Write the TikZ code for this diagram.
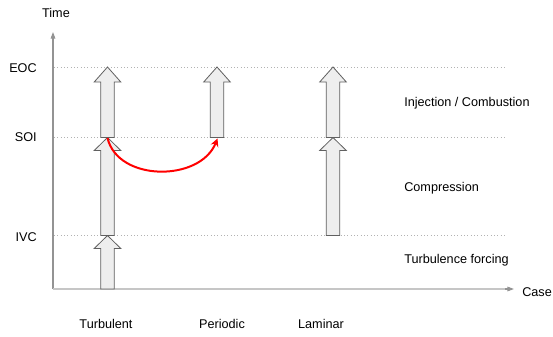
\documentclass[tikz,border=0pt]{standalone}
\usepackage{fontspec}
\setmainfont{Liberation Sans}
\usetikzlibrary{arrows.meta}
\tikzset{
  lbl/.style={font=\fontsize{9.5}{11}\selectfont, inner sep=0pt},
  axisline/.style={draw=gray!85, line width=0.8pt, -{Triangle[length=5pt,width=3.5pt]}},
  guide/.style={draw=gray!60, line width=0.5pt, dotted},
  blockarrow/.style={draw=gray!75!black, fill=gray!13, line width=0.6pt, line join=miter},
  jump/.style={draw=red, line width=1.5pt, -{Stealth[length=6pt,width=6pt]}}
}
% upward block arrow: x centre, bottom y, tip y, head length
\newcommand\uparrowblock[4]{%
  \path[blockarrow] (#1-6.8,#2) -- (#1-6.8,#3+#4) -- (#1-13.3,#3+#4) -- (#1,#3)
    -- (#1+13.3,#3+#4) -- (#1+6.8,#3+#4) -- (#1+6.8,#2) -- cycle;}
\begin{document}
\begin{tikzpicture}[x=0.75pt,y=-0.75pt]
\useasboundingbox (0,0) rectangle (553,336);

% time levels
\draw[guide] (54,67) -- (506,67);
\draw[guide] (54,137) -- (506,137);
\draw[guide] (54,235) -- (506,235);

% axes
\coordinate (origin) at (53,289);
\coordinate (ytip) at (53,32);
\coordinate (xtip) at (514,289);
\draw[axisline] (origin) -- (ytip);
\draw[draw=gray!45, line width=1.5pt] (origin) -- (505,289);
\draw[axisline] (505,289) -- (xtip);

\node[lbl] (time) at (56,13) {Time};
\node[lbl, anchor=west] (case) at (522,292) {Case};
\node[lbl, anchor=east] (eoc) at (37,68) {EOC};
\node[lbl, anchor=east] (soi) at (37,137) {SOI};
\node[lbl, anchor=east] (ivc) at (37,237) {IVC};

% phase arrows
\uparrowblock{107.5}{289}{235.5}{13}
\uparrowblock{107.5}{235.5}{137.5}{13}
\uparrowblock{107.5}{137.5}{67}{15}
\uparrowblock{217}{137.5}{67}{15}
\uparrowblock{333}{235.5}{137.5}{13}
\uparrowblock{333}{137.5}{67}{15}

% restart of the periodic case
\coordinate (turbsoi) at (107.5,138);
\coordinate (persoi) at (217.5,138.5);
\draw[jump] (turbsoi) .. controls (118,182) and (200,182) .. (persoi);

% phase names
\node[lbl, anchor=west] (inj) at (404,103) {Injection / Combustion};
\node[lbl, anchor=west] (comp) at (404,188) {Compression};
\node[lbl, anchor=west] (force) at (404,260) {Turbulence forcing};

% case names
\node[lbl] (turb) at (106,324) {Turbulent};
\node[lbl] (per) at (222,324) {Periodic};
\node[lbl] (lam) at (321,324) {Laminar};
\end{tikzpicture}
\end{document}
